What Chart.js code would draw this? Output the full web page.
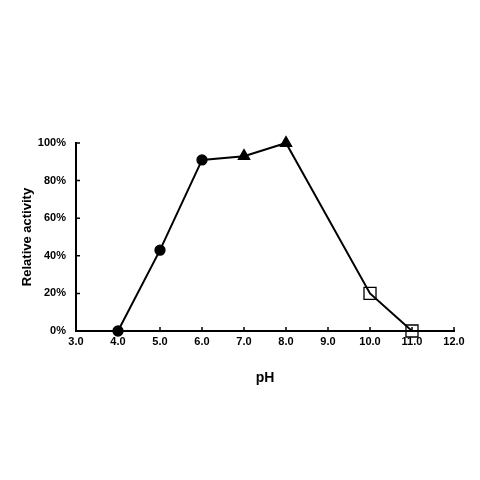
<!DOCTYPE html>
<html><head><meta charset="utf-8">
<script src="https://cdn.jsdelivr.net/npm/chart.js@4/dist/chart.umd.min.js"></script>
<style>html,body{margin:0;padding:0;background:#fff;}canvas{display:block;}</style>
</head><body>
<canvas id="c" width="480" height="480"></canvas>
<script>
const phValues = [4.0, 5.0, 6.0, 7.0, 8.0, 10.0, 11.0];
const activity = [0, 43, 91, 93, 100, 20, 0];
const markerGroup = [0, 0, 0, 1, 1, 2, 2];
const xTicks = [3, 4, 5, 6, 7, 8, 9, 10, 11, 12];
const yTicks = [0, 20, 40, 60, 80, 100];

const groupStyle = ['circle', 'triangle', 'rect'];
const groupFill = ['#000', '#000', 'rgba(0,0,0,0)'];
const groupRadius = [5, 6.5, 8.5];

const font = {family: 'Liberation Sans, Arial, sans-serif', weight: 'bold', size: 11};

const insideTicks = {
  id: 'insideTicks',
  beforeDatasetsDraw(chart) {
    const {ctx, scales: {x, y}} = chart;
    const len = 4;
    ctx.save();
    ctx.strokeStyle = '#000';
    ctx.lineWidth = 1.5;
    ctx.beginPath();
    x.ticks.forEach(t => {
      const px = x.getPixelForValue(t.value);
      ctx.moveTo(px, x.top);
      ctx.lineTo(px, x.top - len);
    });
    y.ticks.forEach(t => {
      const py = y.getPixelForValue(t.value);
      ctx.moveTo(y.right, py);
      ctx.lineTo(y.right + len, py);
    });
    ctx.stroke();
    ctx.restore();
  }
};

new Chart(document.getElementById('c'), {
  type: 'line',
  data: {
    datasets: [{
      data: phValues.map((x, i) => ({x, y: activity[i]})),
      borderColor: '#000',
      borderWidth: 2,
      tension: 0,
      clip: false,
      pointStyle: ctx => groupStyle[markerGroup[ctx.dataIndex]],
      pointBackgroundColor: ctx => groupFill[markerGroup[ctx.dataIndex]],
      pointBorderColor: '#000',
      pointBorderWidth: 1.3,
      pointRadius: ctx => groupRadius[markerGroup[ctx.dataIndex]],
      pointHoverRadius: ctx => groupRadius[markerGroup[ctx.dataIndex]]
    }]
  },
  options: {
    responsive: false,
    animation: false,
    events: [],
    layout: {padding: {left: 0, top: 143, right: 26, bottom: 89}},
    plugins: {legend: {display: false}, tooltip: {enabled: false}},
    scales: {
      x: {
        type: 'linear',
        min: xTicks[0], max: xTicks[xTicks.length - 1],
        afterBuildTicks: s => { s.ticks = xTicks.map(v => ({value: v})); },
        afterFit: s => { s.height = 60; },
        ticks: {color: '#000', font, padding: 4, maxRotation: 0, callback: v => Number(v).toFixed(1)},
        grid: {display: false, drawTicks: false},
        border: {color: '#000', width: 2},
        title: {display: true, text: 'pH', color: '#000', font: {family: font.family, weight: 'bold', size: 14}, padding: {top: 0, bottom: 4}}
      },
      y: {
        type: 'linear',
        min: 0, max: 100,
        afterBuildTicks: s => { s.ticks = yTicks.map(v => ({value: v})); },
        afterFit: s => { s.width = 76; },
        ticks: {color: '#000', font, padding: 10, callback: v => v + '%'},
        grid: {display: false, drawTicks: false},
        border: {color: '#000', width: 2},
        title: {display: true, text: 'Relative activity', color: '#000', font: {family: font.family, weight: 'bold', size: 13}, padding: {top: 20, bottom: 0}}
      }
    }
  },
  plugins: [insideTicks]
});
</script>
</body></html>
